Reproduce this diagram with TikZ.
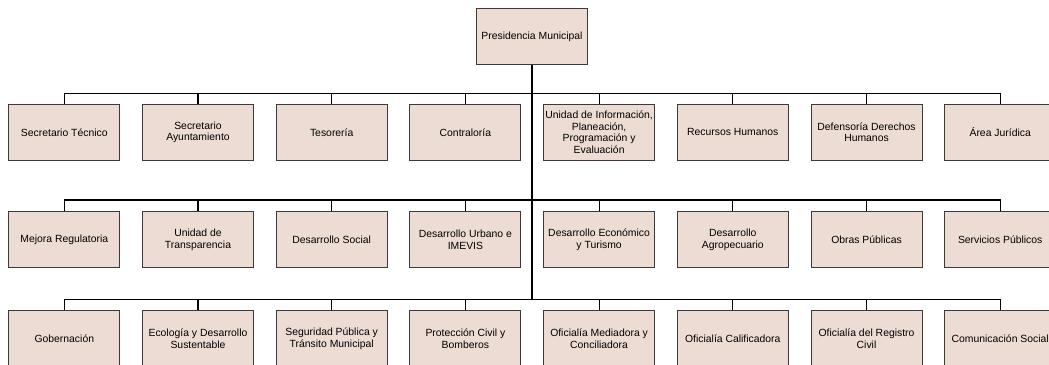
\documentclass[tikz,border=0pt]{standalone}
\usepackage{fontspec}
\setmainfont{Liberation Sans}
\usetikzlibrary{positioning}
\definecolor{unitfill}{HTML}{EDDCD3}
\definecolor{unitline}{HTML}{3A3A3A}
\tikzset{
  unit/.style={draw=unitline, fill=unitfill, line width=0.9pt, align=center,
    inner sep=0pt, minimum width=111pt, minimum height=56pt,
    font=\fontsize{10.4}{11.7}\selectfont},
  bus/.style={draw=black, line width=1.1pt},
  trunk/.style={draw=black, line width=2.4pt},
}
\begin{document}
\begin{tikzpicture}[x=1pt,y=-1pt]
  \clip (0,0) rectangle (1049,364);
  \useasboundingbox (0,0) rectangle (1049,364);
  \node[unit] (pres) at (532,36.8) {Presidencia Municipal};
  % first level
  \node[unit] (sect) at (64.3,132.3) {Secretario Técnico};
  \node[unit] (seca) at (198,132.3) {Secretario\\Ayuntamiento};
  \node[unit] (teso) at (331.7,132.3) {Tesorería};
  \node[unit] (cont) at (465.4,132.3) {Contraloría};
  \node[unit] (uipp) at (599.1,132.3) {Unidad de Información,\\Planeación,\\Programación y\\Evaluación};
  \node[unit] (rhum) at (732.8,132.3) {Recursos Humanos};
  \node[unit] (defd) at (866.5,132.3) {Defensoría Derechos\\Humanos};
  \node[unit] (ajur) at (1000.2,132.3) {Área Jurídica};
  % second level
  \node[unit] (mreg) at (64.3,239.5) {Mejora Regulatoria};
  \node[unit] (utra) at (198,239.5) {Unidad de\\Transparencia};
  \node[unit] (dsoc) at (331.7,239.5) {Desarrollo Social};
  \node[unit] (durb) at (465.4,239.5) {Desarrollo Urbano e\\IMEVIS};
  \node[unit] (deco) at (599.1,239.5) {Desarrollo Económico\\y Turismo};
  \node[unit] (dagr) at (732.8,239.5) {Desarrollo\\Agropecuario};
  \node[unit] (obra) at (866.5,239.5) {Obras Públicas};
  \node[unit] (serv) at (1000.2,239.5) {Servicios Públicos};
  % third level
  \node[unit] (gobe) at (64.3,338.7) {Gobernación};
  \node[unit] (ecol) at (198,338.7) {Ecología y Desarrollo\\Sustentable};
  \node[unit] (segu) at (331.7,338.7) {Seguridad Pública y\\Tránsito Municipal};
  \node[unit] (pciv) at (465.4,338.7) {Protección Civil y\\Bomberos};
  \node[unit] (omed) at (599.1,338.7) {Oficialía Mediadora y\\Conciliadora};
  \node[unit] (ocal) at (732.8,338.7) {Oficialía Calificadora};
  \node[unit] (oreg) at (866.5,338.7) {Oficialía del Registro\\Civil};
  \node[unit] (csoc) at (1000.2,338.7) {Comunicación Social};
  % buses
  \coordinate (bus1) at (532,93.3);
  \coordinate (bus2) at (532,200);
  \coordinate (bus3) at (532,299.3);
  \foreach \n in {sect,seca,teso,cont,uipp,rhum,defd,ajur}
    \draw[bus] (bus1) -| (\n.north);
  \foreach \n in {mreg,utra,dsoc,durb,deco,dagr,obra,serv}
    \draw[bus] (bus2) -| (\n.north);
  \foreach \n in {gobe,ecol,segu,pciv,omed,ocal,oreg,csoc}
    \draw[bus] (bus3) -| (\n.north);
  \draw[trunk] (pres.south) -- (bus3);
\end{tikzpicture}
\end{document}
